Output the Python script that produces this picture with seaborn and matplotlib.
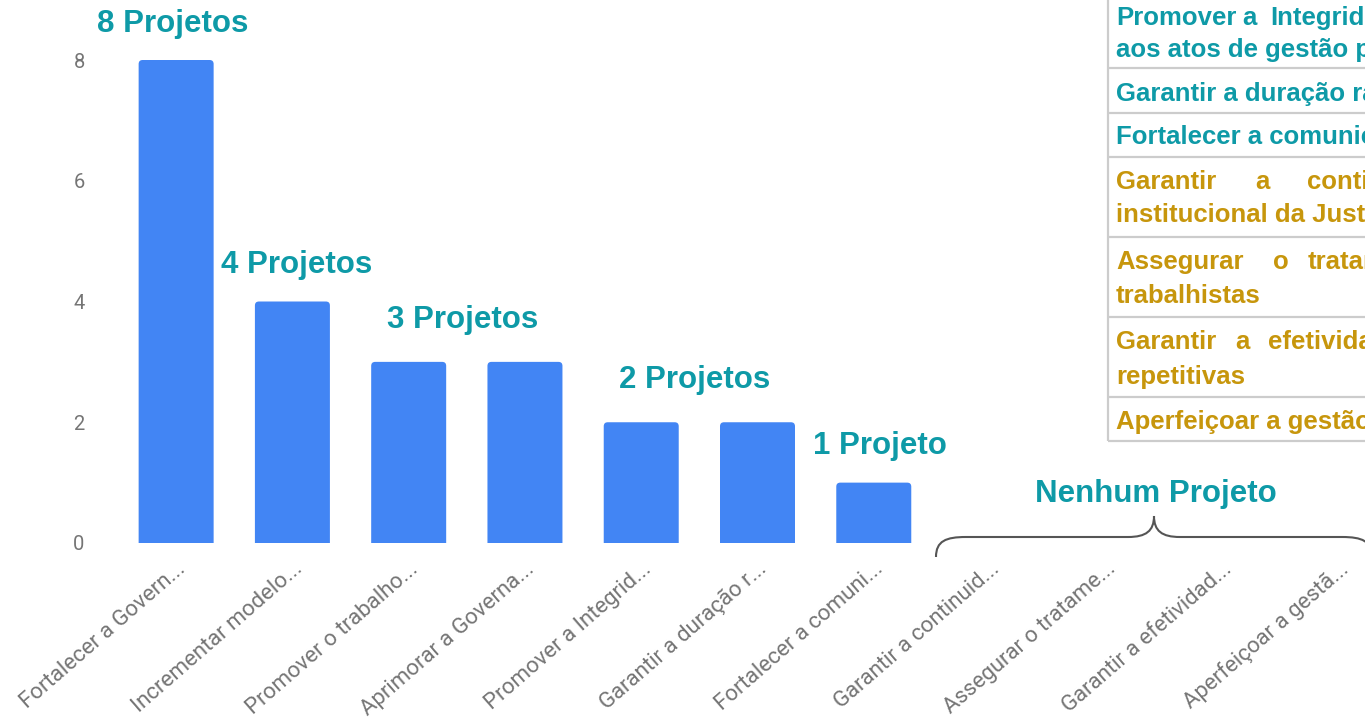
import matplotlib
matplotlib.use("Agg")
import matplotlib.pyplot as plt
import seaborn as sns
import pandas as pd
from matplotlib.path import Path
from matplotlib.patches import PathPatch, FancyBboxPatch

# ---------------- data ----------------
categories = [
    "Fortalecer a Govern...", "Incrementar modelo...", "Promover o trabalho...",
    "Aprimorar a Governa...", "Promover a Integrid...", "Garantir a duração r...",
    "Fortalecer a comuni...", "Garantir a continuid...", "Assegurar o tratame...",
    "Garantir a efetividad...", "Aperfeiçoar a gestã...",
]
projects = [8, 4, 3, 3, 2, 2, 1, 0, 0, 0, 0]

annot_labels = ["8 Projetos", "4 Projetos", "3 Projetos", "2 Projetos", "1 Projeto", "Nenhum Projeto"]
annot_x = [-0.03, 1.04, 2.46, 4.46, 6.05, 8.43]
annot_y = [8.6, 4.61, 3.7, 2.7, 1.61, 0.815]

y_ticks = [0, 2, 4, 6, 8]

table_lines = [
    ["Promover a Integridade", "aos atos de gestão praticados"],
    ["Garantir a duração razoável do processo"],
    ["Fortalecer a comunicação e o diálogo"],
    ["Garantir a continuidade", "institucional da Justiça do Trabalho"],
    ["Assegurar o tratamento", "trabalhistas"],
    ["Garantir a efetividade", "repetitivas"],
    ["Aperfeiçoar a gestão de pessoas"],
]
table_group = ["teal", "teal", "teal", "gold", "gold", "gold", "gold"]

# ---------------- style / layout ----------------
TEAL = "#0E9AA7"
GOLD = "#C7960C"
BLUE = "#4285F4"
GRAY = "#757575"

W, H = 1365, 727
sns.set_theme(style="white")
plt.rcParams["font.family"] = ["Liberation Sans", "DejaVu Sans"]

fig = plt.figure(figsize=(W / 100, H / 100), dpi=100)
ax = fig.add_axes([118 / W, 1 - 543 / H, 1279 / W, 483 / H])

df = pd.DataFrame({"cat": categories, "val": projects})
sns.barplot(data=df, x="cat", y="val", color=BLUE, saturation=1, width=0.645, ax=ax)

# rounded tops for bars
px_x = 1 / 116.3
px_y = 1 / 60.375
for p in list(ax.patches):
    x0, y0 = p.get_x(), p.get_y()
    w, h = p.get_width(), p.get_height()
    p.remove()
    if h <= 0:
        continue
    rb = FancyBboxPatch((x0, y0 - 0.2), w, h + 0.2,
                        boxstyle=f"round,pad=0,rounding_size={4 * px_x}",
                        mutation_aspect=px_y / px_x,
                        facecolor=BLUE, edgecolor="none", zorder=2)
    ax.add_patch(rb)

ax.set_xlim(-0.5, 10.5)
ax.set_ylim(0, 8)
ax.set_yticks(y_ticks)
ax.set_xlabel("")
ax.set_ylabel("")
for s in ax.spines.values():
    s.set_visible(False)
ax.tick_params(axis="y", length=0, pad=24, labelsize=14.5, labelcolor=GRAY)
ax.tick_params(axis="x", length=0, pad=11, labelsize=16, labelcolor=GRAY)
for t in ax.get_yticklabels():
    t.set_fontfamily(["Roboto", "DejaVu Sans"])
for t in ax.get_xticklabels():
    t.set_fontfamily(["Roboto", "DejaVu Sans"])
    t.set_rotation(41)
    t.set_ha("right")
    t.set_rotation_mode("anchor")

for lab, xx, yy in zip(annot_labels, annot_x, annot_y):
    ax.text(xx, yy, lab, ha="center", va="center", color=TEAL,
            fontsize=22.5, fontweight="bold", clip_on=False)

# ---------------- overlay (table + brace) in pixel coords ----------------
ov = fig.add_axes([0, 0, 1, 1], zorder=5)
ov.set_xlim(0, W)
ov.set_ylim(H, 0)
ov.axis("off")
ov.patch.set_alpha(0)

# brace
verts = [(936, 557), (936, 541), (946, 537), (966, 537),
         (1128, 537), (1146, 537), (1154, 531), (1154, 516),
         (1154, 531), (1162, 537), (1180, 537),
         (1342, 537), (1362, 537), (1372, 541), (1372, 557)]
codes = [Path.MOVETO, Path.CURVE4, Path.CURVE4, Path.CURVE4,
         Path.LINETO, Path.CURVE4, Path.CURVE4, Path.CURVE4,
         Path.CURVE4, Path.CURVE4, Path.CURVE4,
         Path.LINETO, Path.CURVE4, Path.CURVE4, Path.CURVE4]
ov.add_patch(PathPatch(Path(verts, codes), facecolor="none", edgecolor="#555555", lw=1.5))

# table grid
border = "#CCCCCC"
row_edges = [68, 113, 157, 237, 317, 397, 441]
ov.plot([1108, 1108], [-5, 441], color=border, lw=1.6, solid_capstyle="butt")
for ye in row_edges:
    ov.plot([1108, W + 5], [ye, ye], color=border, lw=1.6, solid_capstyle="butt")

line_baselines = [[25, 57], [101], [144], [189, 222], [269, 303], [349, 384], [429]]
justified_x = {0: [1116, 1242, 1270], 3: [1116, 1255, 1307],
               4: [1116, 1273, 1308], 5: [1116, 1235, 1268]}
for i, lines in enumerate(table_lines):
    col = TEAL if table_group[i] == "teal" else GOLD
    for j, (txt, yb) in enumerate(zip(lines, line_baselines[i])):
        if j == 0 and i in justified_x:
            for word, xw in zip(txt.split(" "), justified_x[i]):
                ov.text(xw, yb, word, ha="left", va="baseline", color=col,
                        fontsize=18.5, fontweight="bold")
        else:
            ov.text(1116, yb, txt, ha="left", va="baseline", color=col,
                    fontsize=18.5, fontweight="bold")

fig.savefig("out.png", dpi=100)
